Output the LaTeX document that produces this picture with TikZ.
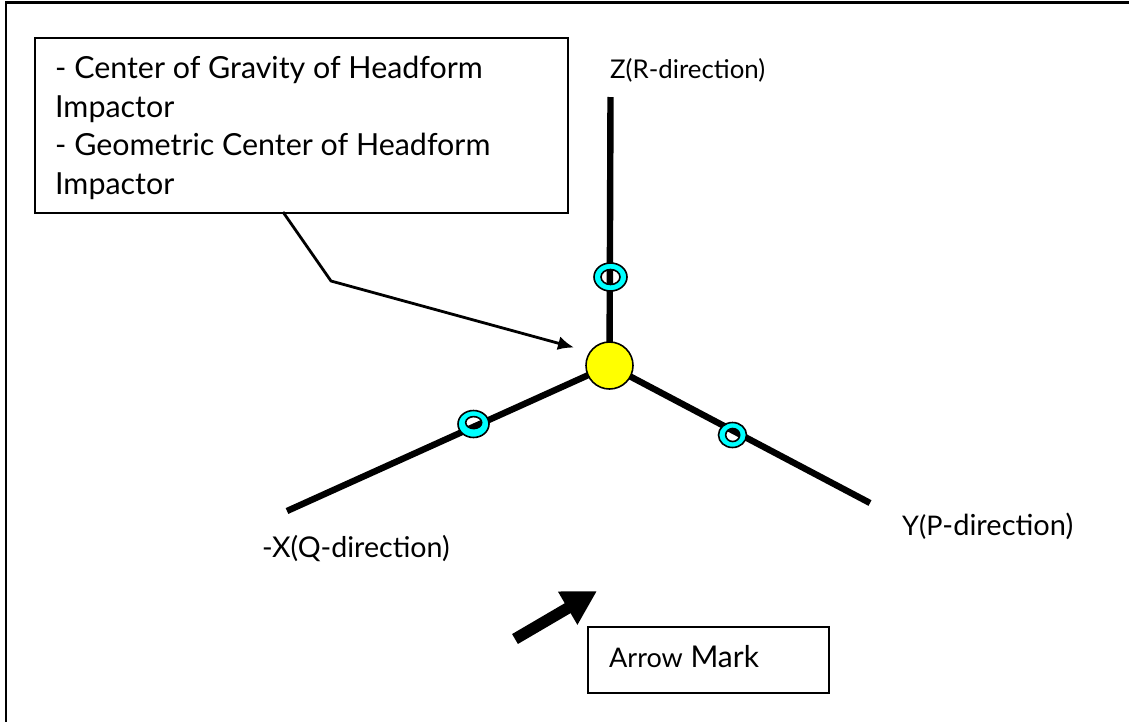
\documentclass[tikz,border=0pt]{standalone}
\usepackage{fontspec}
\setmainfont{Lato}
\usetikzlibrary{arrows.meta}
\definecolor{ringcyan}{RGB}{0,255,255}
\definecolor{hubyellow}{RGB}{255,255,0}
\begin{document}
\begin{tikzpicture}[x=1pt,y=-1pt]
	\tikzset{axis/.style = {line width=6.4pt}}
	\tikzset{leader/.style = {line width=2.8pt,line join=round}}
	\tikzset{label/.style = {inner sep=0pt,anchor=base west}}
	\tikzset{notetext/.style = {label,font=\fontsize{30.4}{30}\selectfont}}
	\tikzset{textbox/.style = {draw,line width=2pt,inner sep=0pt}}
	\tikzset{ring/.style = {draw,line width=1.6pt,fill=ringcyan,even odd rule}}
	\useasboundingbox (0,0) rectangle (1129,721);
	\draw[line width=2.4pt] (6,722) -- (6,2.5) -- (1130,2.5);
	% vertices
	\coordinate (zend) at (610.5,97);
	\coordinate (xend) at (287,511);
	\coordinate (yend) at (870,503);
	\coordinate (bend) at (331,281);
	\coordinate (leaderstart) at (283,212);
	\coordinate (leaderend) at (574,347.5);
	\coordinate (marktail) at (515,639);
	\coordinate (markhead) at (597,591);
	\node[shape=circle,minimum size=47pt,inner sep=0pt] (center) at (609.5,365.5) {};
	%edges
	\draw[axis] (zend) -- (center.center);
	\draw[axis] (xend) -- (center.center);
	\draw[axis] (yend) -- (center.center);
	\path[ring] (610.5,277) ellipse (16.5 and 14) (610.5,277) ellipse (9.5 and 7.5);
	\path[ring] (473.5,424) ellipse (15.5 and 13.5) (473.7,422.6) ellipse (8 and 6);
	\path[ring] (732.5,435) ellipse (14 and 12.5) (732.7,435) ellipse (7 and 6.5);
	\node[shape=circle,draw,line width=1.6pt,fill=hubyellow,minimum size=47pt,inner sep=0pt] at (center) {};
	\node[textbox,minimum width=533pt,minimum height=175pt] (notebox) at (301.5,125) {};
	\node[textbox,minimum width=241pt,minimum height=66pt] (markbox) at (708.5,660) {};
	\draw[leader,-{Latex[length=16pt,width=14pt]}] (leaderstart) -- (bend) -- (leaderend);
	\draw[line width=11.5pt,-{Triangle[length=34pt,width=36pt]}] (marktail) -- (markhead);
	% texts
	\node[notetext] (l1) at (55,78) {- Center of Gravity of Headform};
	\node[notetext] (l2) at (55,117) {Impactor};
	\node[notetext] (l3) at (55,155) {- Geometric Center of Headform};
	\node[notetext] (l4) at (55,194) {Impactor};
	\node[label,font=\fontsize{25.8}{26}\selectfont] (zlabel) at (610,78) {Z(R-direction)};
	\node[label,font=\fontsize{28.6}{29}\selectfont] (xlabel) at (262,557) {-X(Q-direction)};
	\node[label,font=\fontsize{29}{29}\selectfont] (ylabel) at (902,535) {{\fontsize{27}{27}\selectfont Y(P}-direction)};
	\node[label,font=\fontsize{30}{30}\selectfont] (marklabel) at (609,667) {{\fontsize{27}{27}\selectfont Arrow} Mark};
\end{tikzpicture}
\end{document}
